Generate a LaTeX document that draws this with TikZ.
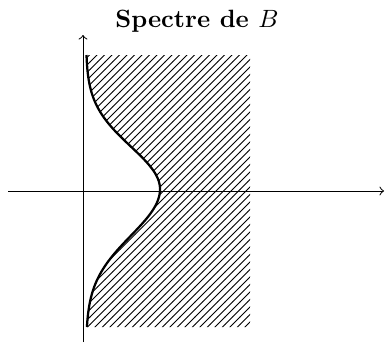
\documentclass[tikz,border=0pt]{standalone}
\usetikzlibrary{patterns}
\begin{document}
\begin{tikzpicture}[x=0.4pt,y=-0.4pt,
  axis/.style={->,line width=0.4pt},
  bord/.style={line width=0.9pt}]
\useasboundingbox (0,0) rectangle (385,347);
\def\curvepath{plot[domain=-134:0,samples=70,smooth,variable=\t] ({86+74*exp(-((\t)/60)*((\t)/60))},{189+\t}) -- plot[domain=0:138,samples=70,smooth,variable=\t] ({86+74*exp(-((\t)/66)*((\t)/66))},{189+\t})}
\fill[pattern=north east lines] \curvepath -- (250,327) -- (250,55) -- cycle;
\draw[axis] (8,191) -- (384,191);
\draw[axis] (83,342) -- (83,35);
\draw[bord] \curvepath;
\node[font=\bfseries,anchor=base] (title) at (197,27) {Spectre de $B$};
\end{tikzpicture}
\end{document}
